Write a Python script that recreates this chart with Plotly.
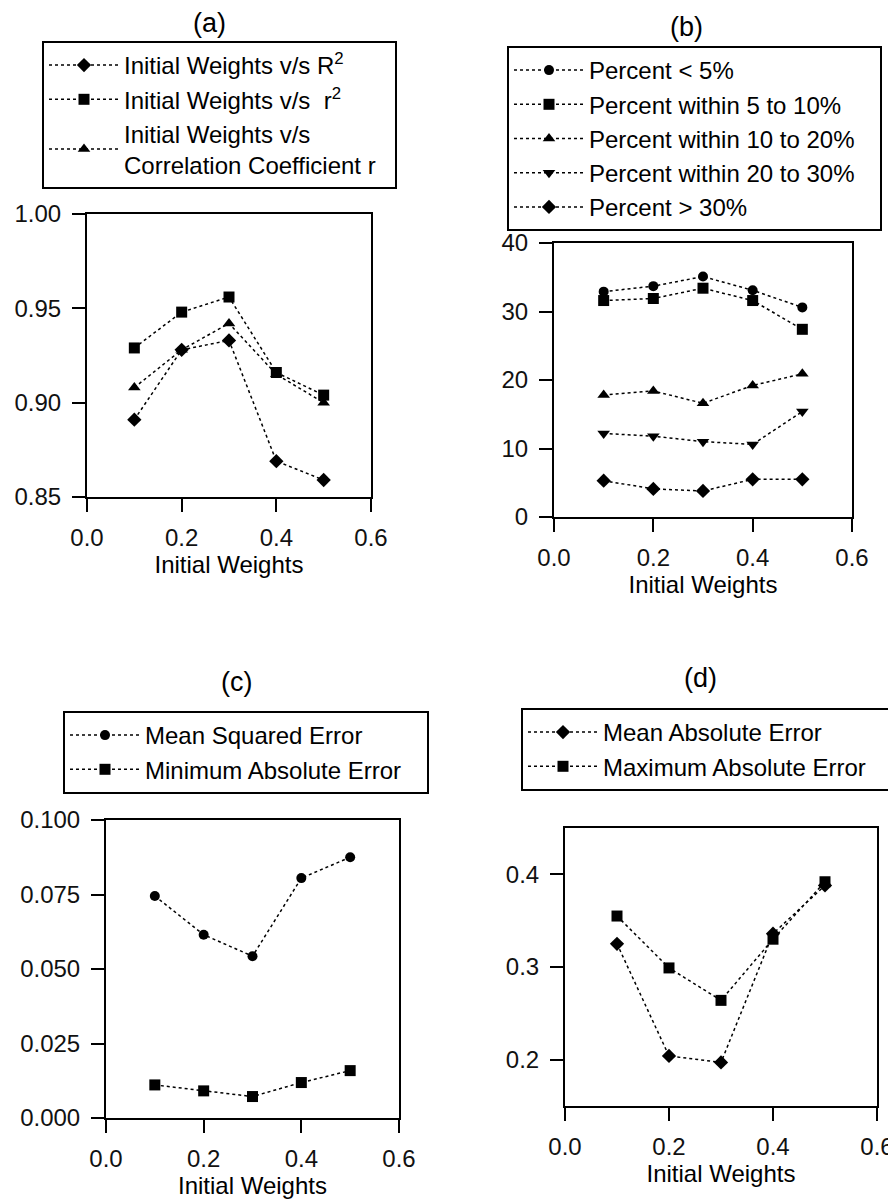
import plotly.graph_objects as go

# ---------------- data ----------------
x_weights = [0.1, 0.2, 0.3, 0.4, 0.5]

a_R2 = [0.891, 0.928, 0.933, 0.869, 0.859]
a_r2 = [0.929, 0.948, 0.956, 0.916, 0.904]
a_r = [0.908, 0.928, 0.942, 0.915, 0.900]

b_lt5 = [32.9, 33.7, 35.1, 33.1, 30.6]
b_5_10 = [31.6, 31.9, 33.4, 31.6, 27.4]
b_10_20 = [17.8, 18.4, 16.6, 19.2, 20.9]
b_20_30 = [12.2, 11.8, 11.0, 10.6, 15.4]
b_gt30 = [5.3, 4.1, 3.8, 5.5, 5.5]

c_mse = [0.0745, 0.0615, 0.0543, 0.0805, 0.0875]
c_minae = [0.0111, 0.0091, 0.0072, 0.0119, 0.0159]

d_mae = [0.325, 0.204, 0.197, 0.336, 0.388]
d_maxae = [0.355, 0.299, 0.264, 0.330, 0.392]

x_ticks = [0.0, 0.2, 0.4, 0.6]
a_yticks = [0.85, 0.90, 0.95, 1.00]
b_yticks = [0, 10, 20, 30, 40]
c_yticks = [0.0, 0.025, 0.05, 0.075, 0.1]
d_yticks = [0.2, 0.3, 0.4]

# page has an 8px body margin; the figure is sized to fill the window
OFF = 8
W, H = 896 - OFF, 1203 - OFF
FONT = "Liberation Sans, Arial, sans-serif"
# right padding inside the legend boxes
PADS = {"legend": "&nbsp;&nbsp;", "legend2": "&nbsp;&nbsp;&nbsp;",
        "legend3": "&nbsp;&nbsp;&nbsp;", "legend4": "&nbsp;&nbsp;&nbsp;"}

fig = go.Figure()


def add(xax, yax, y, name, symbol, size, legend):
    fig.add_trace(go.Scatter(
        x=x_weights, y=y, name=name + PADS[legend], mode="lines+markers",
        xaxis=xax, yaxis=yax, legend=legend,
        line=dict(color="black", width=1.5, dash="dot"),
        marker=dict(symbol=symbol, size=size, color="black"),
    ))


add("x", "y", a_R2, "Initial Weights v/s R<sup>2</sup>", "diamond", 11, "legend")
add("x", "y", a_r2, "Initial Weights v/s  r<sup>2</sup>", "square", 11, "legend")
add("x", "y", a_r, "Initial Weights v/s<br>Correlation Coefficient r", "triangle-up", 11, "legend")

add("x2", "y2", b_lt5, "Percent &lt; 5%", "circle", 10, "legend2")
add("x2", "y2", b_5_10, "Percent within 5 to 10%", "square", 11, "legend2")
add("x2", "y2", b_10_20, "Percent within 10 to 20%", "triangle-up", 11, "legend2")
add("x2", "y2", b_20_30, "Percent within 20 to 30%", "triangle-down", 11, "legend2")
add("x2", "y2", b_gt30, "Percent &gt; 30%", "diamond", 11, "legend2")

add("x3", "y3", c_mse, "Mean Squared Error", "circle", 10, "legend3")
add("x3", "y3", c_minae, "Minimum Absolute Error", "square", 11, "legend3")

add("x4", "y4", d_mae, "Mean Absolute Error", "diamond", 11, "legend4")
add("x4", "y4", d_maxae, "Maximum Absolute Error", "square", 11, "legend4")


def px_x(px):
    return (px - OFF) / W


def px_y(py):
    return 1 - (py - OFF) / H


def xaxis(left, right, anchor):
    return dict(
        domain=[px_x(left), px_x(right)], anchor=anchor, range=[0, 0.6],
        tickvals=x_ticks, tickformat=".1f", ticks="outside", ticklen=13,
        tickwidth=2, tickcolor="black", showline=True, linewidth=2,
        linecolor="black", mirror=True, showgrid=False, zeroline=False,
        ticklabelstandoff=5, automargin=False,
        title=dict(text="Initial Weights", standoff=4, font=dict(size=24)),
        tickfont=dict(size=24, color="#111"),
    )


def yaxis(top, bottom, anchor, rng, ticks, fmt):
    return dict(
        domain=[px_y(bottom), px_y(top)], anchor=anchor, range=rng,
        tickvals=ticks, tickformat=fmt, ticks="outside", ticklen=13,
        tickwidth=2, tickcolor="black", showline=True, linewidth=2,
        linecolor="black", mirror=True, showgrid=False, zeroline=False,
        ticklabelstandoff=6, automargin=False,
        tickfont=dict(size=24, color="#111"),
    )


def legend(left, top):
    return dict(
        x=px_x(left), y=px_y(top), xanchor="left", yanchor="top",
        xref="container", yref="container",
        bordercolor="black", borderwidth=2, bgcolor="white",
        font=dict(size=24, family=FONT, color="black"),
        itemwidth=70, tracegroupgap=0,
    )


fig.update_layout(
    width=W, height=H,
    margin=dict(l=0, r=0, t=0, b=0, pad=0, autoexpand=False),
    paper_bgcolor="white", plot_bgcolor="white",
    font=dict(family=FONT, size=24, color="black"),
    showlegend=True,
    xaxis=xaxis(87, 371, "y"),
    yaxis=yaxis(214, 497, "x", [0.85, 1.0], a_yticks, ".2f"),
    xaxis2=xaxis(554, 852, "y2"),
    yaxis2=yaxis(243, 517, "x2", [0, 40], b_yticks, "d"),
    xaxis3=xaxis(106, 399, "y3"),
    yaxis3=yaxis(820, 1118, "x3", [0, 0.1], c_yticks, ".3f"),
    xaxis4=xaxis(565, 877, "y4"),
    yaxis4=yaxis(828, 1106, "x4", [0.15, 0.45], d_yticks, ".1f"),
    legend=legend(42, 41),
    legend2=legend(507, 46),
    legend3=legend(63, 711),
    legend4=legend(521, 708),
)

titles = [("(a)", 209, 23), ("(b)", 686, 27), ("(c)", 237, 682), ("(d)", 700, 678)]
for txt, tx, ty in titles:
    fig.add_annotation(
        text=txt, x=px_x(tx), y=px_y(ty), xref="paper", yref="paper",
        xanchor="center", yanchor="middle", showarrow=False,
        font=dict(size=27, family=FONT, color="black"),
    )

fig.write_html("out.html")
